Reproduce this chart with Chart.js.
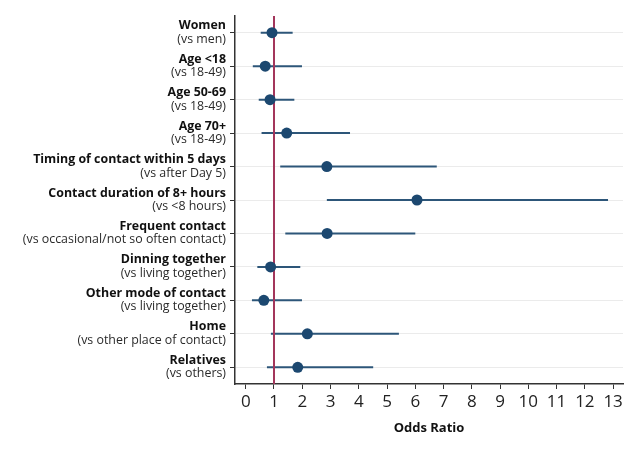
<!DOCTYPE html>
<html>
<head>
<meta charset="utf-8">
<script src="https://cdn.jsdelivr.net/npm/chart.js@4.4.0/dist/chart.umd.min.js"></script>
<style>
  body { margin: 0; background: #fff; }
  #wrap { width: 640px; height: 466px; }
</style>
</head>
<body>
<div id="wrap"><canvas id="forest" width="640" height="466"></canvas></div>
<script>
// Factors (bold line) and their reference groups (second line)
const factors = ["Women", "Age <18", "Age 50-69", "Age 70+", "Timing of contact within 5 days",
    "Contact duration of 8+ hours", "Frequent contact", "Dinning together", "Other mode of contact",
    "Home", "Relatives"];
const comparisons = ["(vs men)", "(vs 18-49)", "(vs 18-49)", "(vs 18-49)", "(vs after Day 5)",
    "(vs <8 hours)", "(vs occasional/not so often contact)", "(vs living together)",
    "(vs living together)", "(vs other place of contact)", "(vs others)"];

// Odds ratios with 95% CI
const oddsRatio = [0.93, 0.69, 0.86, 1.45, 2.87, 6.06, 2.88, 0.88, 0.64, 2.18, 1.84];
const ciLower   = [0.53, 0.25, 0.46, 0.56, 1.22, 2.87, 1.40, 0.41, 0.22, 0.89, 0.75];
const ciUpper   = [1.66, 1.99, 1.72, 3.69, 6.76, 12.82, 6.00, 1.93, 1.99, 5.42, 4.51];

const xTicks = [0, 1, 2, 3, 4, 5, 6, 7, 8, 9, 10, 11, 12, 13];
const refValue = 1;

const FONT = "'Open Sans', sans-serif";

// Draws the CI whiskers and the reference line under the dots
const whiskerPlugin = {
    id: "whiskers",
    beforeDatasetsDraw(chart) {
        const { ctx, chartArea, scales: { x, y } } = chart;
        ctx.save();
        ctx.strokeStyle = "#2d5679";
        ctx.lineWidth = 2;
        oddsRatio.forEach((v, i) => {
            const py = y.getPixelForValue(i);
            ctx.beginPath();
            ctx.moveTo(x.getPixelForValue(ciLower[i]), py);
            ctx.lineTo(x.getPixelForValue(ciUpper[i]), py);
            ctx.stroke();
        });
        const rx = x.getPixelForValue(refValue);
        ctx.strokeStyle = "#a3365b";
        ctx.lineWidth = 2;
        ctx.beginPath();
        ctx.moveTo(rx, chartArea.top);
        ctx.lineTo(rx, chartArea.bottom);
        ctx.stroke();
        ctx.restore();
    }
};

// Two-line category labels: bold factor, regular comparison
const labelPlugin = {
    id: "twoLineLabels",
    afterDraw(chart) {
        const { ctx, scales: { y } } = chart;
        ctx.save();
        ctx.textAlign = "right";
        ctx.textBaseline = "middle";
        const lx = y.right - 9;
        factors.forEach((f, i) => {
            const py = y.getPixelForValue(i);
            ctx.fillStyle = "#111";
            ctx.font = "bold 12.4px " + FONT;
            ctx.fillText(f, lx, py - 7);
            ctx.fillStyle = "#2a2a2a";
            ctx.font = "12.4px " + FONT;
            ctx.fillText(comparisons[i], lx, py + 6.5);
        });
        ctx.restore();
    }
};

new Chart(document.getElementById("forest"), {
    type: "scatter",
    data: {
        datasets: [{
            data: oddsRatio.map((v, i) => ({ x: v, y: i })),
            backgroundColor: "#1c4870",
            borderWidth: 0,
            pointRadius: 5.5,
            pointHoverRadius: 5.5
        }]
    },
    options: {
        responsive: false,
        animation: false,
        layout: { padding: { top: 16, right: 17, left: 0, bottom: 0 } },
        scales: {
            x: {
                type: "linear",
                min: -0.38,
                max: 13.35,
                afterBuildTicks: scale => { scale.ticks = xTicks.map(v => ({ value: v })); },
                afterFit: scale => { scale.height = 82; },
                border: { color: "#333", width: 1.5 },
                grid: { drawOnChartArea: false, drawTicks: true, tickLength: 5, color: "#333", tickColor: "#333" },
                ticks: { color: "#222", padding: 3, font: { family: FONT, size: 17 } },
                title: {
                    display: true,
                    text: "Odds Ratio",
                    color: "#111",
                    font: { family: FONT, size: 13, weight: "bold" },
                    padding: { top: 0, bottom: 30 }
                }
            },
            y: {
                type: "linear",
                reverse: true,
                min: -0.5,
                max: 10.5,
                afterBuildTicks: scale => { scale.ticks = factors.map((f, i) => ({ value: i })); },
                afterFit: scale => { scale.width = 235; },
                border: { color: "#333", width: 1.5 },
                grid: { color: "#ebebeb", lineWidth: 1, drawTicks: true, tickLength: 5, tickColor: "#333" },
                ticks: { callback: () => "" }
            }
        },
        plugins: {
            legend: { display: false },
            tooltip: { enabled: false }
        }
    },
    plugins: [whiskerPlugin, labelPlugin]
});
</script>
</body>
</html>
